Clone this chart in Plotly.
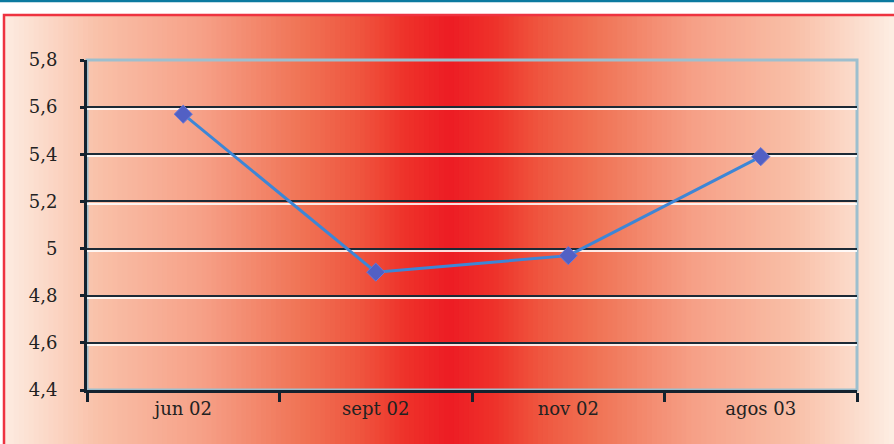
import plotly.graph_objects as go

categories = ["jun 02", "sept 02", "nov 02", "agos 03"]
values = [5.57, 4.90, 4.97, 5.39]
y_tickvals = [4.4, 4.6, 4.8, 5.0, 5.2, 5.4, 5.6, 5.8]
y_ticktext = ["4,4", "4,6", "4,8", "5", "5,2", "5,4", "5,6", "5,8"]
grid_vals = [4.6, 4.8, 5.0, 5.2, 5.4, 5.6]

W, H = 894, 444
px_x = lambda p: p / W
px_y = lambda p: 1 - p / H

# gradient stops: normalized distance from centre -> rgb
stops = [(0.0, (237, 28, 36)), (0.1, (238, 50, 42)), (0.2, (239, 85, 62)),
         (0.33, (240, 115, 85)), (0.55, (246, 160, 135)), (0.78, (249, 192, 168)),
         (1.0, (253, 238, 228))]

def col(d):
    d = min(max(d, 0), 1)
    for (a, ca), (b, cb) in zip(stops[:-1], stops[1:]):
        if a <= d <= b:
            t = (d - a) / (b - a)
            c = [round(ca[i] + (cb[i] - ca[i]) * t) for i in range(3)]
            return f"rgb({c[0]},{c[1]},{c[2]})"
    return "white"

shapes = []
N = 180
x0p, x1p, cx = 4, W, 450
for i in range(N):
    a = x0p + (x1p - x0p) * i / N
    b = x0p + (x1p - x0p) * (i + 1) / N
    m = (a + b) / 2
    d = abs(m - cx) / (cx if m < cx else (W - cx))
    shapes.append(dict(type="rect", xref="paper", yref="paper",
                       x0=px_x(a), x1=px_x(b) + 0.001, y0=0, y1=px_y(15),
                       fillcolor=col(d), line=dict(width=0), layer="below"))
# red frame (left + top)
shapes.append(dict(type="path", xref="paper", yref="paper",
                   path=f"M {px_x(4)} 0 L {px_x(4)} {px_y(15)} L 1 {px_y(15)}",
                   line=dict(color="#EE3340", width=2.5), layer="below"))
# teal top rule
shapes.append(dict(type="line", xref="paper", yref="paper",
                   x0=0, x1=1, y0=px_y(1), y1=px_y(1),
                   line=dict(color="#0A7AA0", width=2.5), layer="below"))
# light plot border (top + right)
shapes.append(dict(type="rect", xref="x domain", yref="y domain",
                   x0=0, x1=1, y0=0, y1=1,
                   line=dict(color="#9DBFCE", width=3), layer="below"))

fig = go.Figure()
fig.add_trace(go.Scatter(x=categories, y=values, yaxis="y3", mode="none",
                         showlegend=False, hoverinfo="skip"))
fig.add_trace(go.Scatter(x=categories, y=values, yaxis="y2", mode="none",
                         showlegend=False, hoverinfo="skip"))
fig.add_trace(go.Scatter(
    x=categories, y=values, mode="lines+markers",
    line=dict(color="#3D86D6", width=3),
    marker=dict(symbol="diamond", size=14, color="#5260C4",
                line=dict(color="#6A78D8", width=1)),
    showlegend=False))

d = 2.2 * 1.4 / 330
dom_x = [px_x(87), px_x(857)]
dom_y = [px_y(390), px_y(60)]
font_serif = "DejaVu Serif"
fig.update_layout(
    width=W, height=H,
    margin=dict(l=0, r=0, t=0, b=0),
    paper_bgcolor="white", plot_bgcolor="rgba(0,0,0,0)",
    shapes=shapes,
    font=dict(family=font_serif, size=17, color="#222222"),
    xaxis=dict(domain=dom_x, type="category", range=[-0.5, 3.5], showgrid=False,
               showline=True, linecolor="#14222E", linewidth=3,
               ticks="outside", tickson="boundaries", ticklen=9, tickwidth=3,
               tickcolor="#14222E", automargin=False,
               tickfont=dict(family=font_serif, size=18, color="#222")),
    yaxis=dict(domain=dom_y, range=[4.4, 5.8], tickvals=y_tickvals,
               ticktext=y_ticktext, showgrid=False, zeroline=False,
               showline=True, linecolor="#14222E", linewidth=3,
               ticks="outside", ticklen=4, tickwidth=3, tickcolor="#14222E",
               ticklabelstandoff=19, automargin=False,
               tickfont=dict(family=font_serif, size=18, color="#222")),
    yaxis2=dict(domain=dom_y, overlaying="y", range=[4.4, 5.8],
                tickvals=grid_vals, showticklabels=False, showgrid=True,
                gridcolor="#1C2A36", gridwidth=2, zeroline=False, showline=False),
    yaxis3=dict(domain=dom_y, overlaying="y", range=[4.4 + d, 5.8 + d],
                tickvals=grid_vals + [4.4], showticklabels=False, showgrid=True,
                gridcolor="rgba(255,255,255,0.85)", gridwidth=1.5,
                zeroline=False, showline=False),
)
fig.write_html("out.html", config={"displayModeBar": False},
               post_script="document.body.style.margin='0';document.body.style.padding='0';")
